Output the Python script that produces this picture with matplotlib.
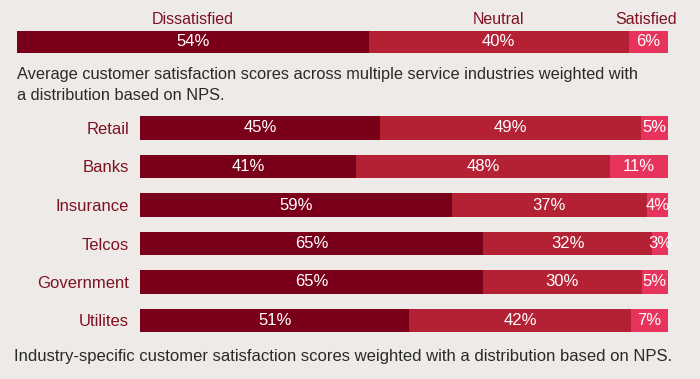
import matplotlib
matplotlib.use("Agg")
import matplotlib.pyplot as plt
import numpy as np

# overall distribution
overall_groups = ["Dissatisfied", "Neutral", "Satisfied"]
overall_vals = [54, 40, 6]

# per-industry distribution
industries = ["Retail", "Banks", "Insurance", "Telcos", "Government", "Utilites"]
dissatisfied = [45, 41, 59, 65, 65, 51]
neutral = [49, 48, 37, 32, 30, 42]
satisfied = [5, 11, 4, 3, 5, 7]

BG = "#edeae7"
COLS = ["#7a0019", "#b42034", "#e6345c"]
LABEL_RED = "#7d1222"
TXT = "#2a2a2a"
FONT = "Liberation Sans"

plt.rcParams["font.family"] = [FONT, "DejaVu Sans"]

W, H = 700, 379
fig = plt.figure(figsize=(W / 100, H / 100), dpi=100, facecolor=BG)


def px_axes(x0, y0, x1, y1):
    # pixel box (top-left origin) -> figure axes
    return fig.add_axes([x0 / W, 1 - y1 / H, (x1 - x0) / W, (y1 - y0) / H])


# --- top bar ---
axt = px_axes(17, 31, 668, 53)
left = 0
for name, v, c in zip(overall_groups, overall_vals, COLS):
    axt.barh(0, v, left=left, height=1, color=c, edgecolor="none")
    axt.text(left + v / 2, 0, f"{v}%", ha="center", va="center",
             color="white", fontsize=12)
    axt.text(left + v / 2 - (0.3 if name == "Satisfied" else 0), 0.5 + 12 / 22, name,
             ha="center", va="center", color=LABEL_RED, fontsize=11.5)
    left += v
axt.set_xlim(0, sum(overall_vals))
axt.set_ylim(-0.5, 0.5)
axt.axis("off")

fig.text(17 / W, 1 - 75 / H, "Average customer satisfaction scores across multiple service industries weighted with",
         ha="left", va="center", fontsize=11.8, color=TXT)
fig.text(17 / W, 1 - 96 / H, "a distribution based on NPS.",
         ha="left", va="center", fontsize=11.8, color=TXT)

# --- industry bars ---
pitch = 38.5
axb = px_axes(140, 128 - pitch / 2, 668, 128 + pitch * 5.5)
y = np.arange(len(industries))
rows = np.array([dissatisfied, neutral, satisfied], dtype=float)
totals = rows.sum(axis=0)
lefts = np.zeros(len(industries))
for vals, c in zip(rows, COLS):
    frac = vals / totals * 100
    axb.barh(y, frac, left=lefts, height=0.6, color=c, edgecolor="none")
    for yi, l, f, v in zip(y, lefts, frac, vals):
        axb.text(l + f / 2, yi, f"{int(v)}%", ha="center", va="center",
                 color="white", fontsize=12)
    lefts += frac
axb.set_xlim(0, 100)
axb.set_ylim(len(industries) - 0.5, -0.5)
axb.set_yticks(y)
axb.set_yticklabels(industries, color=LABEL_RED, fontsize=12)
axb.tick_params(axis="y", length=0, pad=8)
axb.set_xticks([])
for s in axb.spines.values():
    s.set_visible(False)
axb.set_facecolor("none")

fig.text(14 / W, 1 - 357 / H,
         "Industry-specific customer satisfaction scores weighted with a distribution based on NPS.",
         ha="left", va="center", fontsize=12, color=TXT)

fig.savefig("out.png", dpi=100, facecolor=BG)
